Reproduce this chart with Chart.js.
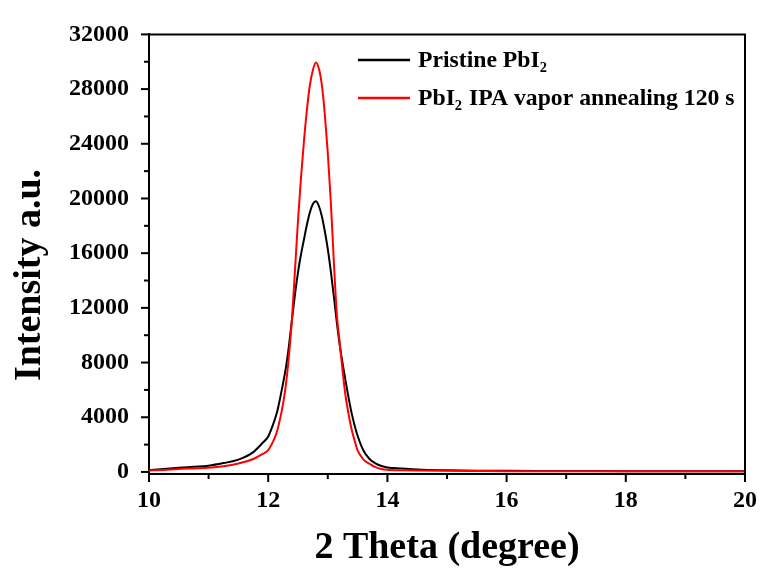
<!DOCTYPE html>
<html>
<head>
<meta charset="utf-8">
<script src="https://cdn.jsdelivr.net/npm/chart.js@4.4.1/dist/chart.umd.min.js"></script>
<style>
  html, body { margin: 0; padding: 0; background: #fff; }
  #wrap { width: 769px; height: 575px; }
</style>
</head>
<body>
<div id="wrap"><canvas id="xrdChart"></canvas></div>
<script>
// 2 theta positions (degree)
const twoTheta = [10, 10.25, 10.5, 10.75, 11, 11.25, 11.5, 11.75, 11.9, 12,
  12.1, 12.15, 12.2, 12.25, 12.3, 12.35, 12.4, 12.45, 12.5, 12.55,
  12.6, 12.65, 12.7, 12.75, 12.8, 12.85, 12.9, 12.95, 13, 13.05,
  13.1, 13.15, 13.2, 13.25, 13.3, 13.35, 13.4, 13.45, 13.5, 13.6,
  13.7, 13.8, 13.9, 14, 14.25, 14.5, 15, 15.5, 16, 17,
  18, 19, 20];

// Intensity of pristine PbI2 film
const pristine = [120, 220, 310, 380, 460, 650, 900, 1450, 2100, 2600,
  3700, 4400, 5400, 6500, 7700, 9300, 11200, 13000, 14600, 15900,
  17000, 18100, 19000, 19600, 19800, 19450, 18700, 17600, 16300, 14700,
  12900, 11000, 9300, 7900, 6600, 5400, 4300, 3400, 2650, 1550,
  950, 620, 430, 330, 250, 180, 120, 90, 80, 70,
  60, 60, 60];

// Intensity after IPA vapor annealing 120 s
const annealed = [100, 150, 220, 260, 310, 420, 620, 950, 1300, 1600,
  2400, 3000, 3900, 5000, 6500, 8600, 11250, 14800, 18400, 21500,
  24200, 26500, 28300, 29400, 29950, 29500, 28300, 26150, 23300, 19800,
  15500, 11600, 9450, 7300, 5500, 4200, 3100, 2300, 1570, 900,
  600, 350, 220, 160, 120, 100, 80, 70, 60, 60,
  60, 60, 60];

// Axis ticks
const xTicks = [10, 12, 14, 16, 18, 20];
const xMinorTicks = [11, 13, 15, 17, 19];
const yTicks = [0, 4000, 8000, 12000, 16000, 20000, 24000, 28000, 32000];
const yMinorTicks = [2000, 6000, 10000, 14000, 18000, 22000, 26000, 30000];

// Legend text pieces: [before subscript, subscript, after subscript]
const legendParts = [
  ['Pristine PbI', '2', ''],
  ['PbI', '2', ' IPA vapor annealing 120 s']
];

const yTitle = 'Intensity a.u.';
const xTitle = '2 Theta (degree)';

const serif = "'Liberation Serif', 'Times New Roman', serif";

const toPoints = (ys) => twoTheta.map((x, i) => ({ x: x, y: ys[i] }));

// Draws the frame, outward tick marks, the y title and the in-plot legend
const framePlugin = {
  id: 'framePlugin',
  afterDraw(chart) {
    const ctx = chart.ctx;
    const area = chart.chartArea;
    const xs = chart.scales.x;
    const ys = chart.scales.y;
    ctx.save();
    ctx.strokeStyle = '#000';
    ctx.lineWidth = 2;

    // top and right border
    ctx.beginPath();
    ctx.moveTo(area.left, area.top);
    ctx.lineTo(area.right, area.top);
    ctx.lineTo(area.right, area.bottom);
    ctx.stroke();

    // tick marks, pointing outward
    const tick = (vals, len, horizontal) => {
      vals.forEach(v => {
        ctx.beginPath();
        if (horizontal) {
          const px = xs.getPixelForValue(v);
          ctx.moveTo(px, area.bottom);
          ctx.lineTo(px, area.bottom + len);
        } else {
          const py = ys.getPixelForValue(v);
          ctx.moveTo(area.left, py);
          ctx.lineTo(area.left - len, py);
        }
        ctx.stroke();
      });
    };
    tick(xTicks, 8, true);
    tick(xMinorTicks, 5, true);
    tick(yTicks, 8, false);
    tick(yMinorTicks, 5, false);

    // y axis title (sits a bit below the middle of the axis in the original)
    ctx.save();
    ctx.translate(30, 275);
    ctx.rotate(-Math.PI / 2);
    ctx.fillStyle = '#000';
    ctx.font = 'bold 38px ' + serif;
    ctx.textAlign = 'center';
    ctx.textBaseline = 'middle';
    ctx.fillText(yTitle, 0, 0);
    ctx.restore();

    // legend
    const rowsY = [60, 98];
    chart.data.datasets.forEach((ds, i) => {
      const y = rowsY[i];
      ctx.strokeStyle = ds.borderColor;
      ctx.lineWidth = 2.5;
      ctx.beginPath();
      ctx.moveTo(358, y);
      ctx.lineTo(410, y);
      ctx.stroke();

      const parts = legendParts[i];
      ctx.save();
      ctx.translate(418, y);
      ctx.scale(1.03, 1);
      let x = 0;
      ctx.fillStyle = '#000';
      ctx.textBaseline = 'alphabetic';
      ctx.font = 'bold 23px ' + serif;
      ctx.fillText(parts[0], x, 7);
      x += ctx.measureText(parts[0]).width;
      ctx.font = 'bold 14px ' + serif;
      ctx.fillText(parts[1], x, 12);
      x += ctx.measureText(parts[1]).width + 1;
      ctx.font = 'bold 23px ' + serif;
      ctx.fillText(parts[2], x, 7);
      ctx.restore();
    });
    ctx.restore();
  }
};

new Chart(document.getElementById('xrdChart').getContext('2d'), {
  type: 'line',
  data: {
    datasets: [
      {
        label: 'Pristine PbI\u2082',
        data: toPoints(pristine),
        borderColor: '#000000',
        borderWidth: 2,
        pointRadius: 0,
        cubicInterpolationMode: 'monotone',
        order: 1
      },
      {
        label: 'PbI\u2082 IPA vapor annealing 120 s',
        data: toPoints(annealed),
        borderColor: '#ff0000',
        borderWidth: 2,
        pointRadius: 0,
        cubicInterpolationMode: 'monotone',
        order: 0
      }
    ]
  },
  options: {
    responsive: true,
    maintainAspectRatio: false,
    animation: false,
    layout: { padding: { top: 26, right: 19, left: 0, bottom: 0 } },
    plugins: {
      legend: { display: false },
      tooltip: { enabled: false }
    },
    scales: {
      x: {
        type: 'linear',
        min: 10,
        max: 20,
        afterBuildTicks: (s) => { s.ticks = xTicks.map(v => ({ value: v })); },
        afterFit: (s) => { s.height = 101; },
        grid: { display: false, drawTicks: false },
        border: { display: true, color: '#000', width: 2 },
        ticks: {
          color: '#000',
          padding: 12,
          maxRotation: 0,
          callback: (v) => String(v),
          font: { family: serif, size: 24, weight: 'bold' }
        },
        title: {
          display: true,
          text: xTitle,
          color: '#000',
          font: { family: serif, size: 38, weight: 'bold', lineHeight: 1 },
          padding: { top: 0, bottom: 8 }
        }
      },
      y: {
        type: 'linear',
        min: -150,
        max: 32000,
        afterBuildTicks: (s) => { s.ticks = yTicks.map(v => ({ value: v })); },
        afterFit: (s) => { s.width = 149; },
        grid: { display: false, drawTicks: false },
        border: { display: true, color: '#000', width: 2 },
        ticks: {
          color: '#000',
          padding: 20,
          callback: (v) => String(v),
          font: { family: serif, size: 24, weight: 'bold' }
        },
        title: { display: false }
      }
    }
  },
  plugins: [framePlugin]
});
</script>
</body>
</html>
